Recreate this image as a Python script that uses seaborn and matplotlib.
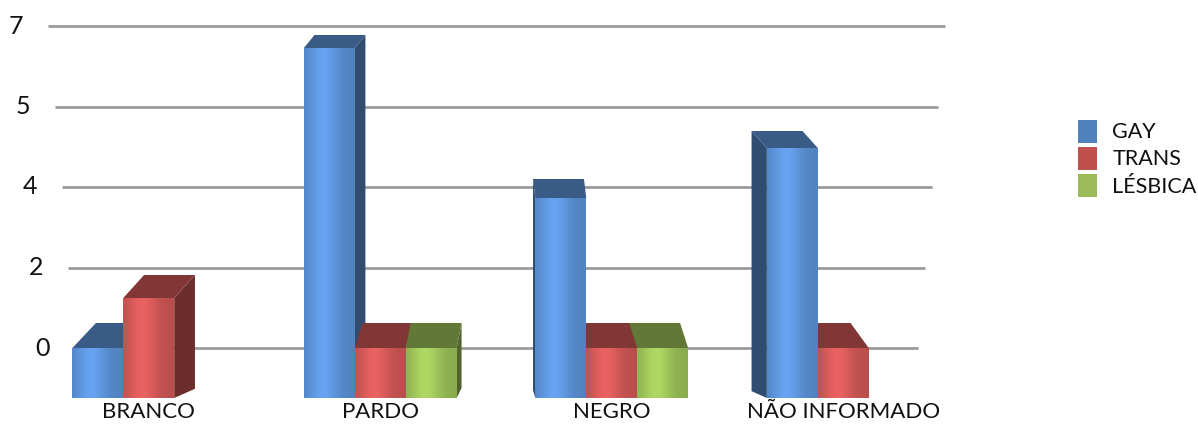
import matplotlib
matplotlib.use("Agg")
import matplotlib.pyplot as plt
from matplotlib.patches import Polygon, Patch
import numpy as np
import pandas as pd
import seaborn as sns

# ---- data -------------------------------------------------------------
categories = ["BRANCO", "PARDO", "NEGRO", "NÃO INFORMADO"]
groups = ["GAY", "TRANS", "LÉSBICA"]
gay = [1, 7, 4, 5]
trans = [2, 1, 1, 1]
lesbica = [0, 1, 1, 0]

axis_ticks = [0, 1.75, 3.5, 5.25, 7]
axis_tick_labels = ["0", "2", "4", "5", "7"]

# ---- style ------------------------------------------------------------
sns.set_theme(style="white")
plt.rcParams["font.family"] = ["Lato", "DejaVu Sans"]

front_colors = ["#5f97df", "#d75b59", "#a1c85b"]
legend_colors = ["#4f81bd", "#c0504d", "#9bbb59"]
grid_color = "#9a9a9a"
text_color = "#111111"

W, H = 1198, 425
fig = plt.figure(figsize=(W / 100, H / 100), dpi=100)
fig.patch.set_facecolor("white")

df = pd.DataFrame({
    "categoria": np.repeat(categories, len(groups)),
    "grupo": groups * len(categories),
    "valor": [v for trio in zip(gay, trans, lesbica) for v in trio],
})

# ---- back wall: gridlines and value labels ------------------------------
wall_bottom, wall_top = 348, 26          # pixel rows of the 0 and 7 lines
back = fig.add_axes([0, (H - wall_bottom) / H, 1, (wall_bottom - wall_top) / H])
back.set_xlim(0, W)
back.set_ylim(0, 7)
back.axis("off")
for v, lab in zip(axis_ticks, axis_tick_labels):
    ypix = wall_bottom - v / 7 * (wall_bottom - wall_top)
    slant = (ypix - wall_top) / (wall_bottom - wall_top) * 27
    left, right = 48 + slant, 945 - slant
    back.hlines(v, left, right, color=grid_color, lw=2.0, zorder=0, clip_on=False)
    back.text(left - 32, v, lab, ha="center", va="center",
              fontsize=18, color=text_color, clip_on=False)

# ---- front: bars ----------------------------------------------------------
floor = 398
unit = 50
ymax = 7.3
front = fig.add_axes([33 / W, (H - floor) / H, (959 - 33) / W, ymax * unit / H])
front.set_facecolor("none")
sns.barplot(data=df, x="categoria", y="valor", hue="grupo",
            palette=front_colors, width=0.66, saturation=1,
            ax=front, legend=False, zorder=3, linewidth=0)
front.set_xlabel("")
front.set_ylabel("")
front.set_yticks([])
sns.despine(ax=front, left=True, bottom=True)
front.tick_params(axis="x", length=0, pad=3, labelsize=16, labelcolor=text_color)

# horizontal shading across a bar face: darker at the edges, bright left of centre
t = np.linspace(0, 1, 64)
profile = 0.86 + 0.22 * np.exp(-((t - 0.38) / 0.3) ** 2)

# extrude every bar into a box: a darker top face and a side face
for bar in list(front.patches):
    h = bar.get_height()
    if h <= 0:
        continue
    x0 = bar.get_x()
    x1 = x0 + bar.get_width()
    cx = (x0 + x1) / 2
    dx = -0.056 * (cx - 1.6)
    dy = (27 - 2 * h) / unit
    fc = np.array(matplotlib.colors.to_rgb(bar.get_facecolor()))

    shade = np.clip(fc[None, None, :] * profile[None, :, None], 0, 1)
    img = front.imshow(shade, extent=(x0, x1, 0, h), aspect="auto",
                       interpolation="bilinear", zorder=3.1)
    img.set_clip_path(bar)

    top = Polygon([(x0, h), (x1, h), (x1 + dx, h + dy), (x0 + dx, h + dy)],
                  closed=True, facecolor=fc * 0.6, edgecolor="none",
                  zorder=2, clip_on=False)
    edge = x1 if dx > 0 else x0
    side = Polygon([(edge, 0), (edge, h), (edge + dx, h + dy), (edge + dx, dy * 0.4)],
                   closed=True, facecolor=fc * 0.5, edgecolor="none",
                   zorder=1.5, clip_on=False)
    front.add_patch(side)
    front.add_patch(top)

front.set_ylim(0, ymax)
front.set_xlim(-0.5, len(categories) - 0.5)

# ---- legend -----------------------------------------------------------------
handles = [Patch(facecolor=c, edgecolor="none", label=g)
           for g, c in zip(groups, legend_colors)]
fig.legend(handles=handles, loc="upper left",
           bbox_to_anchor=(1067 / W, 1 - 109 / H), frameon=False,
           fontsize=15.5, handlelength=0.9, handleheight=1.25,
           handletextpad=0.7, labelspacing=0.2, borderpad=0,
           labelcolor=text_color)

fig.savefig("out.png", dpi=100, facecolor="white")
